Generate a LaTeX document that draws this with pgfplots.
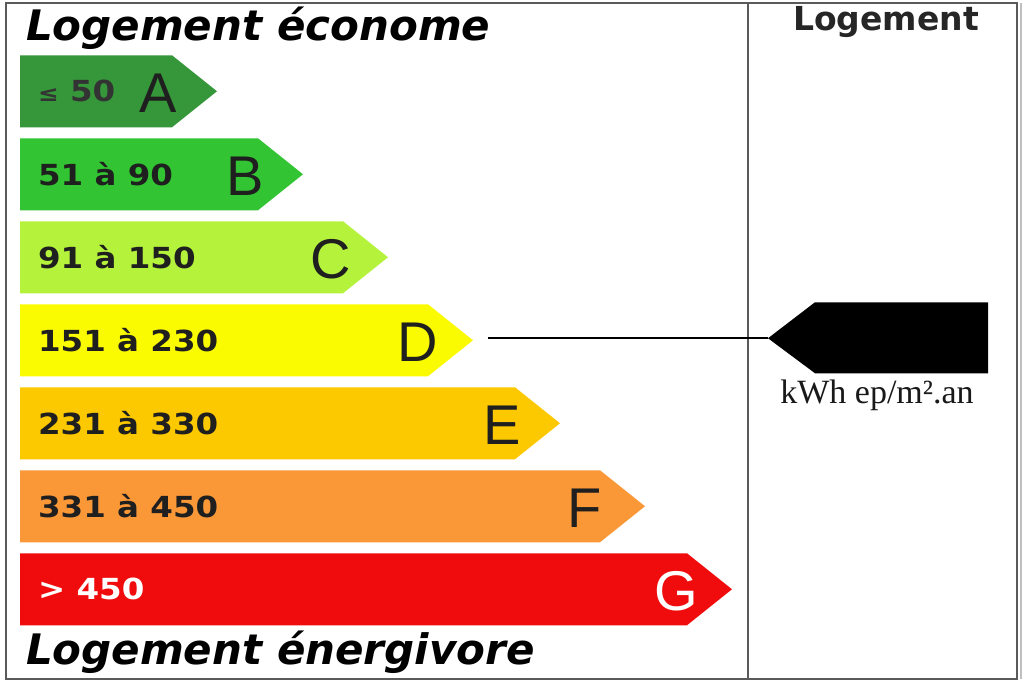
\documentclass[border=0pt]{standalone}
\usepackage{pgfplots}
\pgfplotsset{compat=1.18}
\usepackage{fontspec}
\setmainfont{DejaVu Sans}
\newfontfamily\lettre{Liberation Sans}
\newfontfamily\unite{Liberation Serif}

\definecolor{cA}{RGB}{54,150,58}
\definecolor{cB}{RGB}{50,196,50}
\definecolor{cC}{RGB}{180,242,60}
\definecolor{cD}{RGB}{250,250,0}
\definecolor{cE}{RGB}{252,200,0}
\definecolor{cF}{RGB}{250,152,56}
\definecolor{cG}{RGB}{240,12,12}
\definecolor{frame}{RGB}{90,90,90}

\begin{document}
\begin{tikzpicture}
\begin{axis}[
    width=512pt, height=341.5pt,
    scale only axis,
    xmin=0, xmax=1024, ymin=0, ymax=683,
    y dir=reverse,
    hide axis,
    clip=false,
]
% fond et cadre
\path[fill=white] (axis cs:0,0) rectangle (axis cs:1024,683);
\draw[frame, line width=1pt] (axis cs:6,3) rectangle (axis cs:1017,679);
\draw[frame, line width=1pt] (axis cs:748,3) -- (axis cs:748,679);
\draw[black!25, line width=0.8pt] (axis cs:1021,3) -- (axis cs:1021,679);

% classes (fleches)
\addplot[fill=cA, draw=none] coordinates {(20,55) (172,55) (217,91) (172,127) (20,127)} --cycle;
\addplot[fill=cB, draw=none] coordinates {(20,138) (258,138) (303,174) (258,210) (20,210)} --cycle;
\addplot[fill=cC, draw=none] coordinates {(20,221) (343,221) (388,257) (343,293) (20,293)} --cycle;
\addplot[fill=cD, draw=none] coordinates {(20,304) (428,304) (473,340) (428,376) (20,376)} --cycle;
\addplot[fill=cE, draw=none] coordinates {(20,387) (515,387) (560,423) (515,459) (20,459)} --cycle;
\addplot[fill=cF, draw=none] coordinates {(20,470) (600,470) (645,506) (600,542) (20,542)} --cycle;
\addplot[fill=cG, draw=none] coordinates {(20,553) (687,553) (732,589) (687,625) (20,625)} --cycle;

% repere du logement
\addplot[black, line width=1pt] coordinates {(488,338) (768,338)};
\addplot[fill=black, draw=none] coordinates {(768,338) (815,302) (988,302) (988,373) (815,373)} --cycle;

% textes
\node[anchor=west, font=\fontsize{21}{21}\selectfont\bfseries\itshape] at (axis cs:19,28) {Logement économe};
\node[anchor=west, font=\fontsize{21}{21}\selectfont\bfseries\itshape] at (axis cs:19,652) {Logement énergivore};
\node[font=\fontsize{16.5}{16.5}\selectfont\bfseries, text=black!85] at (axis cs:886,22) {Logement};
\node[font=\unite\fontsize{17}{17}\selectfont, text=black!90] at (axis cs:877,395) {kWh ep/m².an};

\tikzset{rng/.style={anchor=west, font=\fontsize{14.5}{14.5}\selectfont\bfseries, text=black!88}}
\node[rng, text=black!80] at (axis cs:31,91) {\scalebox{1.12}[1]{{\fontsize{11}{11}\selectfont ≤} 50}};
\node[rng] at (axis cs:31,174) {\scalebox{1.12}[1]{51 à 90}};
\node[rng] at (axis cs:31,257) {\scalebox{1.12}[1]{91 à 150}};
\node[rng] at (axis cs:31,340) {\scalebox{1.12}[1]{151 à 230}};
\node[rng] at (axis cs:31,423) {\scalebox{1.12}[1]{231 à 330}};
\node[rng] at (axis cs:31,506) {\scalebox{1.12}[1]{331 à 450}};
\node[rng, text=white] at (axis cs:31,589) {\scalebox{1.12}[1]{> 450}};

\tikzset{lt/.style={font=\lettre\fontsize{28}{28}\selectfont, text=black!88}}
\node[lt] at (axis cs:158,93) {A};
\node[lt] at (axis cs:245,176) {B};
\node[lt] at (axis cs:331,259) {C};
\node[lt] at (axis cs:418,342) {D};
\node[lt] at (axis cs:502,425) {E};
\node[lt] at (axis cs:585,508) {F};
\node[lt, text=white] at (axis cs:676,591) {G};
\end{axis}
\end{tikzpicture}
\end{document}
